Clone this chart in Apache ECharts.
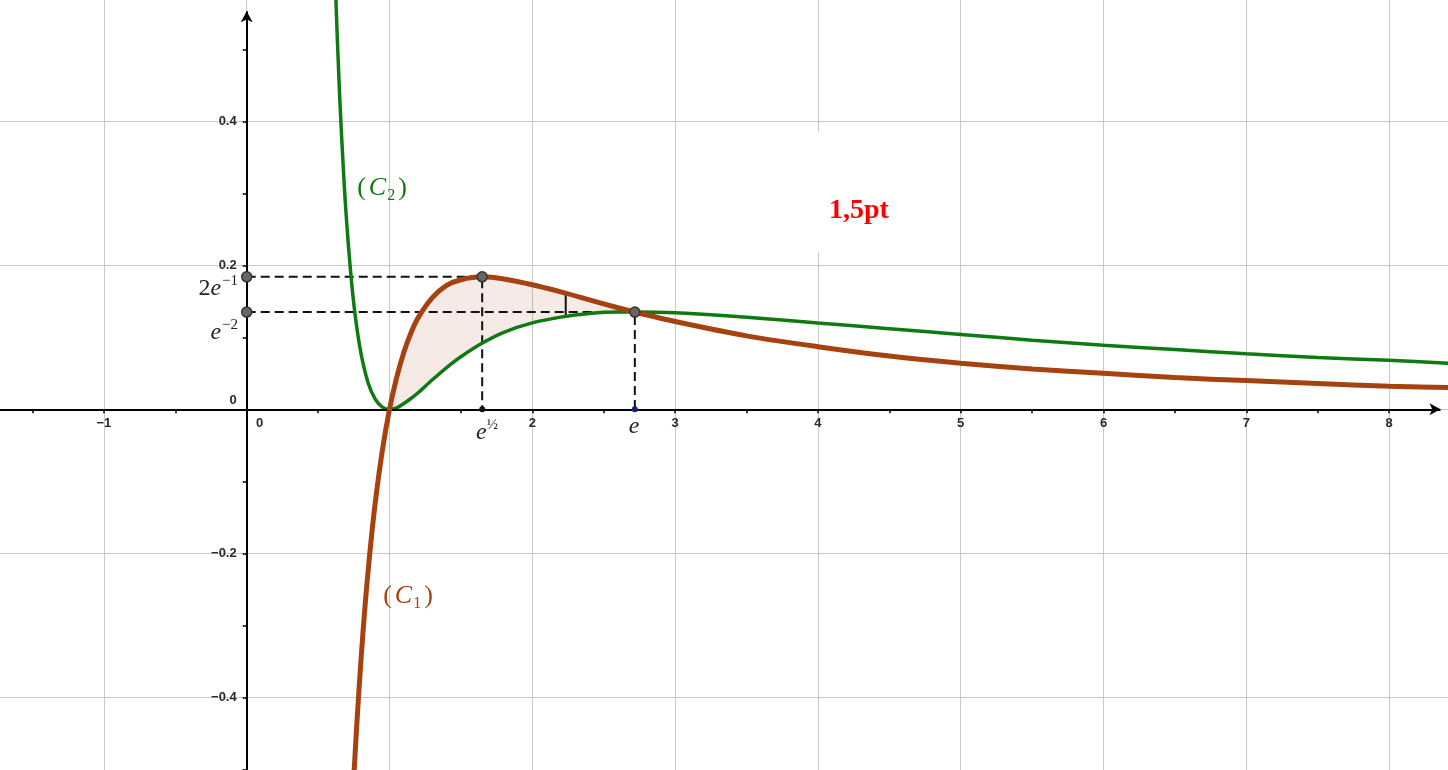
<!DOCTYPE html>
<html>
<head>
<meta charset="utf-8">
<title>(C1) et (C2)</title>
<script src="https://cdn.jsdelivr.net/npm/echarts@6/dist/echarts.min.js"></script>
<style>
  html, body { margin: 0; padding: 0; background: #fff; }
  #chart01 { width: 1448px; height: 770px; }
</style>
</head>
<body>
<div id="chart01"></div>
<script>
// curve C1
const c1X = [0.74, 0.75, 0.77, 0.8, 0.83, 0.86, 0.9, 0.95, 1, 1.05, 1.1, 1.15, 1.2, 1.3, 1.4, 1.5, 1.65, 1.8,
  2, 2.2, 2.4, 2.6, 2.718, 3, 3.5, 4, 4.5, 5, 5.5, 6, 6.5, 7, 7.5, 8, 8.5];
const c1Y = [-0.550, -0.511, -0.441, -0.349, -0.270, -0.204, -0.130, -0.057, 0, 0.044, 0.079, 0.106, 0.127, 0.155, 0.172, 0.180, 0.184, 0.181,
  0.173, 0.163, 0.152, 0.141, 0.135, 0.122, 0.102, 0.087, 0.074, 0.064, 0.056, 0.050, 0.044, 0.040, 0.036, 0.032, 0.030];
// curve C2
const c2X = [0.58, 0.6, 0.62, 0.65, 0.68, 0.7, 0.73, 0.76, 0.8, 0.85, 0.9, 0.95, 1, 1.05, 1.1, 1.15, 1.2, 1.3, 1.4, 1.5, 1.65, 1.8,
  2, 2.2, 2.4, 2.6, 2.718, 3, 3.5, 4, 4.5, 5, 5.5, 6, 6.5, 7, 7.5, 8, 8.5];
const c2Y = [0.882, 0.725, 0.595, 0.439, 0.322, 0.260, 0.186, 0.130, 0.078, 0.037, 0.014, 0.003, 0, 0.002, 0.008, 0.015, 0.023, 0.041, 0.058, 0.073, 0.092, 0.107,
  0.120, 0.128, 0.133, 0.135, 0.135, 0.134, 0.128, 0.120, 0.112, 0.104, 0.096, 0.089, 0.083, 0.077, 0.072, 0.068, 0.063];
// special points
const peak = [1.649, 0.184];   // (e^1/2 , 2e^-1)
const cross = [2.718, 0.135];  // (e , e^-2)
const gapX = 2.234;
const gapY = [0.129, 0.161];
const hiddenXLabels = [-2, 1, 9];
const hiddenYLabels = [-0.6, 0.6];

const brown = "#a5420f";
const green = "#0f7a12";
const tickFont = "'Liberation Sans Narrow', 'Liberation Sans'";
const mathFont = "Liberation Serif";

function zip(xs, ys) {
  return xs.map((x, i) => [x, ys[i]]);
}
const c1Data = zip(c1X, c1Y);
const c2Data = zip(c2X, c2Y);
// region between the two curves, from 1 to e
const regionPts = c1Data
  .filter((p) => p[0] >= 1 && p[0] <= cross[0])
  .concat(c2Data.filter((p) => p[0] >= 1 && p[0] <= cross[0]).reverse());

function fmtX(v) {
  const r = Math.round(v);
  if (hiddenXLabels.indexOf(r) > -1) return "";
  if (r === 0) return "{z|0}";
  return (r < 0 ? "\u2212" : "") + Math.abs(r);
}
function fmtY(v) {
  const r = Math.round(v * 10) / 10;
  if (hiddenYLabels.indexOf(r) > -1) return "";
  if (r === 0) return "{z|0}";
  return (r < 0 ? "\u2212" : "") + Math.abs(r).toFixed(1);
}

const labelBase = {
  fontSize: 13,
  fontWeight: "bold",
  fontFamily: tickFont,
  color: "#2a2a2a",
};

function mathText(x, y, text, rich, align) {
  return {
    type: "text",
    x: x,
    y: y,
    z: 20,
    silent: true,
    style: {
      text: text,
      align: align || "center",
      verticalAlign: "middle",
      rich: rich,
    },
  };
}

const chart = echarts.init(document.getElementById("chart01"));
chart.setOption({
  animation: false,
  grid: {
    left: -38.9,
    right: -83.9,
    top: -22.7,
    bottom: -71.3,
    containLabel: false,
    outerBoundsMode: "none",
  },
  xAxis: {
    type: "value",
    min: -2,
    max: 9,
    interval: 1,
    position: "bottom",
    offset: -432,
    axisLine: { show: false, onZero: false },
    axisTick: { show: true, length: 4, lineStyle: { color: "#000", width: 1.5 } },
    minorTick: { show: true, splitNumber: 2, length: 4, lineStyle: { color: "#000", width: 1.5 } },
    splitLine: { show: true, lineStyle: { color: "#c8c8c8", width: 1 } },
    axisLabel: Object.assign({}, labelBase, {
      margin: 8,
      formatter: fmtX,
      rich: { z: Object.assign({}, labelBase, { padding: [0, 0, 0, 26] }) },
    }),
  },
  yAxis: {
    type: "value",
    min: -0.6,
    max: 0.6,
    interval: 0.2,
    position: "left",
    offset: -285.6,
    axisLine: { show: false, onZero: false },
    axisTick: { show: true, length: 4, lineStyle: { color: "#000", width: 1.5 } },
    minorTick: { show: true, splitNumber: 2, length: 4, lineStyle: { color: "#000", width: 1.5 } },
    splitLine: { show: true, lineStyle: { color: "#c8c8c8", width: 1 } },
    axisLabel: Object.assign({}, labelBase, {
      margin: 10,
      formatter: fmtY,
      rich: { z: Object.assign({}, labelBase, { padding: [0, 0, 18, 0] }) },
    }),
  },
  series: [
    {
      // shaded area
      type: "custom",
      silent: true,
      z: 1,
      data: [[1, 0]],
      renderItem: function (params, api) {
        return {
          type: "polygon",
          shape: { points: regionPts.map((p) => api.coord(p)) },
          style: { fill: "rgba(165,66,15,0.11)", stroke: null },
        };
      },
    },
    {
      // axes with arrows
      type: "line",
      data: [[0, 0]],
      showSymbol: false,
      silent: true,
      z: 3,
      markLine: {
        silent: true,
        symbol: ["none", "arrow"],
        symbolSize: [9, 11],
        label: { show: false },
        lineStyle: { color: "#000", width: 2, type: "solid" },
        data: [
          [{ coord: [-1.8, 0] }, { coord: [8.36, 0] }],
          [{ coord: [0, -0.6] }, { coord: [0, 0.553] }],
        ],
      },
    },
    {
      type: "line",
      data: [[0, peak[1]], peak, [peak[0], 0]],
      showSymbol: false,
      silent: true,
      z: 3,
      lineStyle: { color: "#111", width: 2, type: [9, 5] },
    },
    {
      type: "line",
      data: [[0, cross[1]], cross, [cross[0], 0]],
      showSymbol: false,
      silent: true,
      z: 3,
      lineStyle: { color: "#111", width: 2, type: [9, 5] },
    },
    {
      type: "line",
      data: [[gapX, gapY[0]], [gapX, gapY[1]]],
      showSymbol: false,
      silent: true,
      z: 3,
      lineStyle: { color: "#111", width: 2 },
    },
    {
      name: "C2",
      type: "line",
      data: c2Data,
      showSymbol: false,
      smooth: 0.3,
      silent: true,
      z: 4,
      lineStyle: { color: green, width: 3.5 },
    },
    {
      name: "C1",
      type: "line",
      data: c1Data,
      showSymbol: false,
      smooth: 0.3,
      silent: true,
      z: 5,
      lineStyle: { color: brown, width: 5 },
    },
    {
      type: "scatter",
      data: [[0, peak[1]], peak, cross, [0, cross[1]]],
      symbolSize: 10,
      silent: true,
      z: 10,
      itemStyle: { color: "#666", borderColor: "#333", borderWidth: 1.5, opacity: 1 },
    },
    {
      type: "scatter",
      data: [[peak[0], 0]],
      symbolSize: 6,
      silent: true,
      z: 10,
      itemStyle: { color: "#111", opacity: 1 },
    },
    {
      type: "scatter",
      data: [[cross[0], 0]],
      symbolSize: 6,
      silent: true,
      z: 10,
      itemStyle: { color: "#1a1f7a", opacity: 1 },
    },
  ],
  graphic: [
    {
      type: "rect",
      z: 15,
      silent: true,
      shape: { x: 806, y: 132, width: 106, height: 120 },
      style: { fill: "#fff" },
    },
    {
      type: "text",
      x: 859,
      y: 211,
      z: 20,
      silent: true,
      style: {
        text: "1,5pt",
        align: "center",
        verticalAlign: "middle",
        font: "bold 28px 'Liberation Serif'",
        fill: "#ff0000",
      },
    },
    mathText(382, 188, "{p|(}{c|C}{s|2}{q|)}", {
      p: { fontSize: 26, fontFamily: mathFont, fill: green, lineHeight: 32, padding: [0, 3, 0, 0] },
      c: { fontSize: 26, fontFamily: mathFont, fontStyle: "italic", fill: green, lineHeight: 32 },
      s: { fontSize: 16, fontFamily: mathFont, fill: green, verticalAlign: "bottom", padding: [0, 3, 0, 1] },
      q: { fontSize: 26, fontFamily: mathFont, fill: green, lineHeight: 32 },
    }),
    mathText(408, 596, "{p|(}{c|C}{s|1}{q|)}", {
      p: { fontSize: 26, fontFamily: mathFont, fill: brown, lineHeight: 32, padding: [0, 3, 0, 0] },
      c: { fontSize: 26, fontFamily: mathFont, fontStyle: "italic", fill: brown, lineHeight: 32 },
      s: { fontSize: 16, fontFamily: mathFont, fill: brown, verticalAlign: "bottom", padding: [0, 3, 0, 1] },
      q: { fontSize: 26, fontFamily: mathFont, fill: brown, lineHeight: 32 },
    }),
    mathText(238, 289, "{n|2}{e|e}{u|\u22121}", {
      n: { fontSize: 24, fontFamily: mathFont, fill: "#222", lineHeight: 30 },
      e: { fontSize: 24, fontFamily: mathFont, fontStyle: "italic", fill: "#222", lineHeight: 30, padding: [0, 1, 0, 0] },
      u: { fontSize: 15, fontFamily: mathFont, fill: "#222", verticalAlign: "top" },
    }, "right"),
    mathText(238, 333, "{e|e}{u|\u22122}", {
      e: { fontSize: 24, fontFamily: mathFont, fontStyle: "italic", fill: "#222", lineHeight: 30, padding: [0, 1, 0, 0] },
      u: { fontSize: 15, fontFamily: mathFont, fill: "#222", verticalAlign: "top" },
    }, "right"),
    mathText(487, 433, "{e|e}{u|\u00bd}", {
      e: { fontSize: 24, fontFamily: mathFont, fontStyle: "italic", fill: "#222", lineHeight: 30 },
      u: { fontSize: 15, fontFamily: mathFont, fill: "#222", verticalAlign: "top" },
    }),
    mathText(634, 427, "{e|e}", {
      e: { fontSize: 24, fontFamily: mathFont, fontStyle: "italic", fill: "#222", lineHeight: 30 },
    }),
  ],
});
</script>
</body>
</html>
